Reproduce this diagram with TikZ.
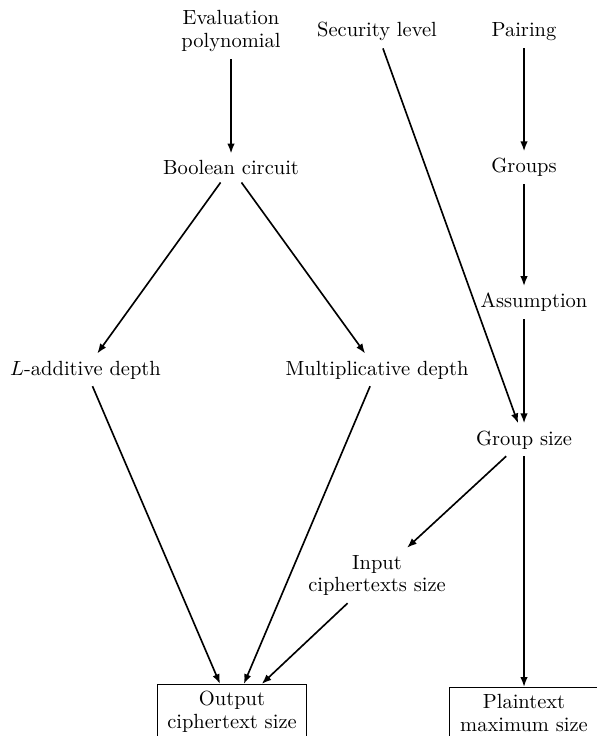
\documentclass[tikz,border=0pt]{standalone}
\usetikzlibrary{arrows.meta}
\begin{document}
\begin{tikzpicture}[x=0.4878pt,y=-0.4878pt,
  two/.style={align=center,font=\fontsize{10}{11.2}\selectfont},
  box/.style={draw,text width=66pt,align=center,font=\fontsize{10}{11.2}\selectfont},
  arr/.style={thick,-{Latex[length=4.8pt,width=3.6pt]}}]
\useasboundingbox (0,0) rectangle (597,736);
\node[two] (eval) at (231,31.4) {Evaluation\\polynomial};
\node[anchor=base] (sec) at (377,37) {Security level};
\node[anchor=base] (pair) at (524,37) {Pairing};
\node[anchor=base] (bool) at (231,175) {Boolean circuit};
\node[anchor=base] (grp) at (524,173) {Groups};
\node[anchor=base] (asm) at (534,308) {Assumption};
\node[anchor=base] (ladd) at (85.5,375) {$L$-additive depth};
\node[anchor=base] (mult) at (377,375) {Multiplicative depth};
\node[anchor=base] (gs) at (524,445) {Group size};
\node[two] (inp) at (377,575.5) {Input\\ciphertexts size};
\node[box,anchor=north] (out) at (232,684) {Output\\ciphertext size};
\node[box,anchor=north] (pt) at (524,687) {Plaintext\\maximum size};
\draw[arr] (eval) -- (bool);
\draw[arr] (sec) -- (gs);
\draw[arr] (pair) -- (grp);
\draw[arr] (grp) -- (grp |- asm.north);
\draw[arr] (asm.south -| gs) -- (gs);
\draw[arr] (bool) -- (ladd);
\draw[arr] (bool) -- (mult);
\draw[arr] (ladd) -- (out);
\draw[arr] (mult) -- (out);
\draw[arr] (gs) -- (inp);
\draw[arr] (inp) -- (out);
\draw[arr] (gs) -- (pt);
\end{tikzpicture}
\end{document}
